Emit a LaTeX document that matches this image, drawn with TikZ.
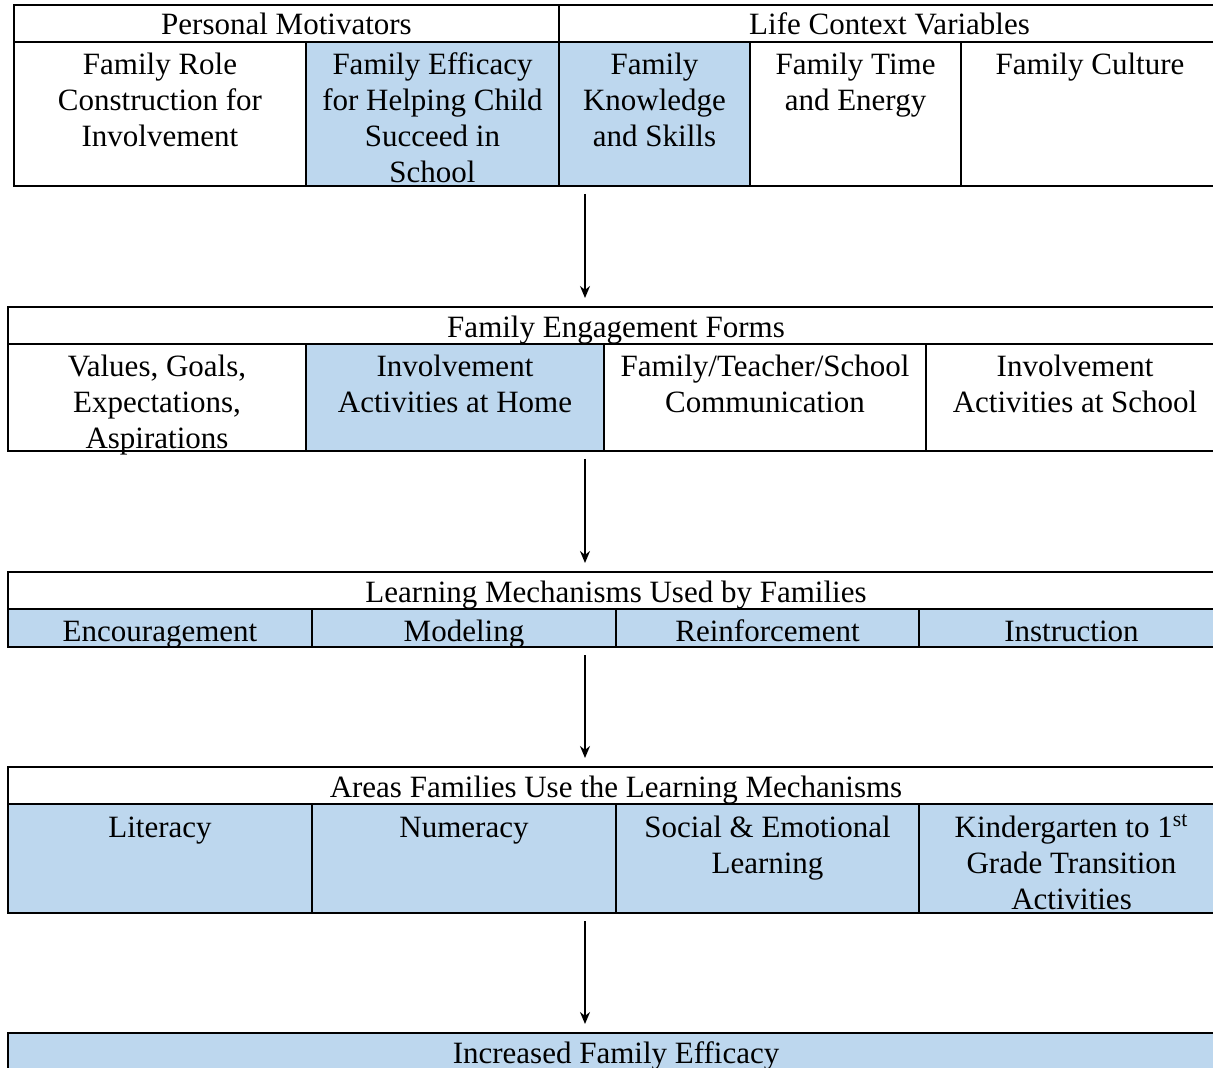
\documentclass[tikz,border=0pt]{standalone}
\usepackage{fontspec}
\setmainfont{Liberation Serif}
\usetikzlibrary{arrows.meta}
\definecolor{cellblue}{RGB}{189,215,238}

\begin{document}
\begin{tikzpicture}[x=0.5pt,y=0.5pt]
\tikzstyle{every node}+=[inner sep=0pt, anchor=base, align=center, font=\fontsize{15.5}{18}\selectfont]
\tikzstyle{rule}=[black, line width=0.8pt]
\tikzstyle{flow}=[black, line width=0.8pt, -{Stealth[length=6pt,width=5pt]}, shorten <=4pt, shorten >=4.5pt]
\useasboundingbox (0,0) rectangle (1213,-1068);
% personal motivators / life context (a node sits on its last baseline)
\fill [cellblue] (306,-42) rectangle (750,-186);
\draw [rule] (14,-5) rectangle (1220,-186);
\draw [rule] (14,-42) -- (1220,-42);
\draw [rule] (559,-5) -- (559,-186);
\draw [rule] (306,-42) -- (306,-186);
\draw [rule] (750,-42) -- (750,-186);
\draw [rule] (961,-42) -- (961,-186);
\node (motiv) at (286.5,-35) {Personal Motivators};
\node (context) at (889.5,-35) {Life Context Variables};
\node (role) at (160,-147) {Family Role\\Construction for\\Involvement};
\node (efficacy) at (432.5,-183) {Family Efficacy\\for Helping Child\\Succeed in\\School};
\node (knowledge) at (654.5,-147) {Family\\Knowledge\\and Skills};
\node (time) at (855.5,-111) {Family Time\\and Energy};
\node (culture) at (1090,-75) {Family Culture};
% engagement forms
\fill [cellblue] (306,-344) rectangle (604,-451);
\draw [rule] (8,-307) rectangle (1224,-451);
\draw [rule] (8,-344) -- (1224,-344);
\draw [rule] (306,-344) -- (306,-451);
\draw [rule] (604,-344) -- (604,-451);
\draw [rule] (926,-344) -- (926,-451);
\node (forms) at (616,-338) {Family Engagement Forms};
\node (values) at (157,-449) {Values, Goals,\\Expectations,\\Aspirations};
\node (home) at (455,-413) {Involvement\\Activities at Home};
\node (comm) at (765,-413) {Family/Teacher/School\\Communication};
\node (school) at (1075,-413) {Involvement\\Activities at School};
% learning mechanisms
\fill [cellblue] (8,-609) rectangle (1224,-647);
\draw [rule] (8,-572) rectangle (1224,-647);
\draw [rule] (8,-609) -- (1224,-609);
\draw [rule] (312,-609) -- (312,-647);
\draw [rule] (616,-609) -- (616,-647);
\draw [rule] (919,-609) -- (919,-647);
\node (mech) at (616,-602) {Learning Mechanisms Used by Families};
\node (encour) at (160,-641) {Encouragement};
\node (model) at (464,-641) {Modeling};
\node (reinf) at (767.5,-641) {Reinforcement};
\node (instr) at (1071.5,-641) {Instruction};
% areas
\fill [cellblue] (8,-804) rectangle (1224,-913);
\draw [rule] (8,-767) rectangle (1224,-913);
\draw [rule] (8,-804) -- (1224,-804);
\draw [rule] (312,-804) -- (312,-913);
\draw [rule] (616,-804) -- (616,-913);
\draw [rule] (919,-804) -- (919,-913);
\node (areas) at (616,-797) {Areas Families Use the Learning Mechanisms};
\node (lit) at (160,-837) {Literacy};
\node (num) at (464,-837) {Numeracy};
\node (sel) at (767.5,-873) {Social \& Emotional\\Learning};
\node (kinder) at (1071.5,-909) {Kindergarten to 1\textsuperscript{st}\\Grade Transition\\Activities};
% outcome
\fill [cellblue] (8,-1033) rectangle (1224,-1080);
\draw [rule] (8,-1033) rectangle (1224,-1080);
\node (outcome) at (616,-1063) {Increased Family Efficacy};
% arrows
\coordinate (a1) at (585,-186);
\coordinate (b1) at (585,-307);
\coordinate (a2) at (585,-451);
\coordinate (b2) at (585,-572);
\coordinate (a3) at (585,-647);
\coordinate (b3) at (585,-767);
\coordinate (a4) at (585,-913);
\coordinate (b4) at (585,-1033);
\draw [flow] (a1) -- (b1);
\draw [flow] (a2) -- (b2);
\draw [flow] (a3) -- (b3);
\draw [flow] (a4) -- (b4);
\end{tikzpicture}
\end{document}
